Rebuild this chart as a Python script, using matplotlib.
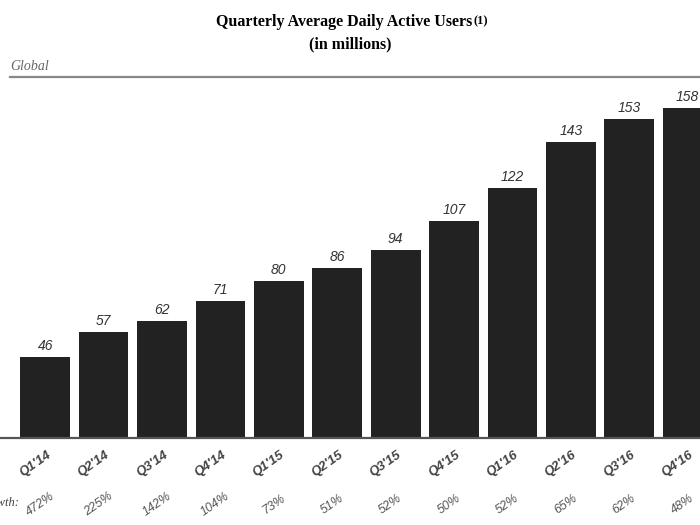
import matplotlib
matplotlib.use("Agg")
import matplotlib.pyplot as plt

# data
quarters = ["Q1'14", "Q2'14", "Q3'14", "Q4'14", "Q1'15", "Q2'15",
            "Q3'15", "Q4'15", "Q1'16", "Q2'16", "Q3'16", "Q4'16"]
dau = [46, 57, 62, 71, 80, 86, 94, 107, 122, 143, 153, 158]
growth = ["472%", "225%", "142%", "104%", "73%", "51%",
          "52%", "50%", "52%", "65%", "62%", "48%"]

fig = plt.figure(figsize=(7, 5.25), dpi=100)
ax = fig.add_axes([0, 1 - 438 / 525, 1, 361 / 525])

x = list(range(len(quarters)))
ax.bar(x, dau, width=0.85, color="#222222", zorder=2)
ax.set_xlim(-0.774, 11.21)
ax.set_ylim(9.35, 172.1)

for s in ["top", "left", "right"]:
    ax.spines[s].set_visible(False)
ax.spines["bottom"].set_color("#555555")
ax.spines["bottom"].set_linewidth(1.6)
ax.set_xticks([])
ax.set_yticks([])

# value labels
for i, v in enumerate(dau):
    ax.annotate(str(v), (i, v), xytext=(0, 4), textcoords="offset pixels",
                ha="center", va="bottom", fontsize=10, style="italic",
                family="Liberation Sans", color="#333333")

# quarter labels and growth row
for i, (q, g) in enumerate(zip(quarters, growth)):
    ax.annotate(q, (i, 0), xycoords=("data", "axes fraction"),
                xytext=(-10, -26), textcoords="offset pixels",
                ha="center", va="center", rotation=35, fontsize=9.5,
                style="italic", fontweight="bold", family="Liberation Sans",
                color="#444444")
    ax.annotate(g, (i, 0), xycoords=("data", "axes fraction"),
                xytext=(-5, -66), textcoords="offset pixels",
                ha="center", va="center", rotation=35, fontsize=9,
                style="italic", family="Liberation Sans", color="#555555")

# partly cut off at the left edge, as in the original
fig.text(19 / 700, 1 - 503 / 525, "Growth:", ha="right", va="center",
         fontsize=9, style="italic", family="Liberation Serif", color="#444444")

# title block
fig.text(472 / 700, 1 - 22 / 525, "Quarterly Average Daily Active Users",
         ha="right", va="center", fontsize=11.5, fontweight="bold",
         family="Liberation Serif")
fig.text(473 / 700, 1 - 21 / 525, "(1)", ha="left", va="center",
         fontsize=9, fontweight="bold", family="Liberation Serif")
fig.text(0.5, 1 - 44 / 525, "(in millions)", ha="center", va="center",
         fontsize=11.5, fontweight="bold", family="Liberation Serif")
fig.text(10 / 700, 1 - 66 / 525, "Global", ha="left", va="center",
         fontsize=10, style="italic", family="Liberation Serif", color="#666666")
fig.add_artist(plt.Line2D([10 / 700, 1], [1 - 77 / 525, 1 - 77 / 525],
                          color="#888888", linewidth=1.6))

fig.savefig("out.png", dpi=100)
